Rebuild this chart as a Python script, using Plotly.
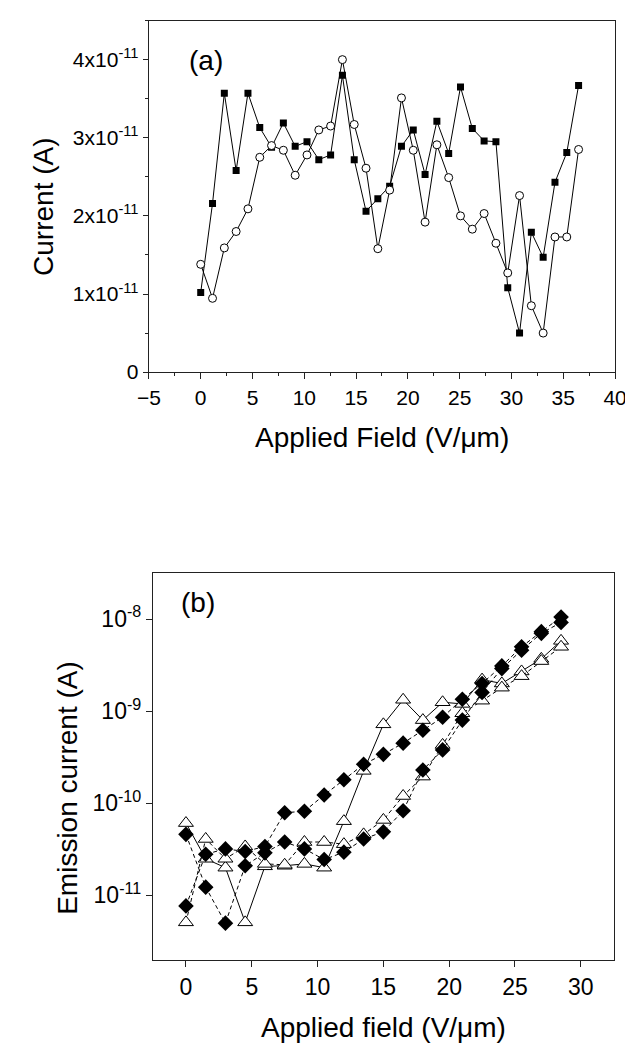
import plotly.graph_objects as go

# ---------- panel (a) data ----------
field_a = [0, 1.14, 2.28, 3.42, 4.56, 5.7, 6.84, 7.98, 9.12, 10.26, 11.4, 12.54, 13.68,
           14.82, 15.96, 17.1, 18.24, 19.38, 20.52, 21.66, 22.8, 23.94, 25.08, 26.22,
           27.36, 28.5, 29.64, 30.78, 31.92, 33.06, 34.2, 35.34, 36.48]
current_sq = [1.02, 2.16, 3.57, 2.58, 3.57, 3.13, 2.88, 3.19, 2.89, 2.95, 2.72, 2.78, 3.80,
              2.72, 2.06, 2.22, 2.38, 2.89, 3.10, 2.53, 3.21, 2.80, 3.65, 3.12, 2.96, 2.95,
              1.08, 0.50, 1.79, 1.47, 2.43, 2.81, 3.67]
current_ci = [1.38, 0.945, 1.59, 1.80, 2.09, 2.75, 2.90, 2.84, 2.52, 2.78, 3.10, 3.15, 4.00,
              3.17, 2.61, 1.58, 2.33, 3.51, 2.84, 1.92, 2.91, 2.49, 2.00, 1.83, 2.03, 1.65,
              1.27, 2.26, 0.85, 0.50, 1.73, 1.73, 2.85]
scale_a = 1e-11
yticks_a = [0, 1e-11, 2e-11, 3e-11, 4e-11]
yticktext_a = ["0", "1x10<sup>-11</sup>", "2x10<sup>-11</sup>", "3x10<sup>-11</sup>", "4x10<sup>-11</sup>"]
xticks_a = [-5, 0, 5, 10, 15, 20, 25, 30, 35, 40]

# ---------- panel (b) data ----------
field_b = [0, 1.5, 3, 4.5, 6, 7.5, 9, 10.5, 12, 13.5, 15, 16.5, 18, 19.5, 21, 22.5, 24,
           25.5, 27, 28.5]
dia_up = [7.7e-12, 2.8e-11, 3.2e-11, 3.0e-11, 3.4e-11, 7.9e-11, 8.2e-11, 1.23e-10, 1.8e-10,
          2.65e-10, 3.4e-10, 4.5e-10, 6.2e-10, 8.6e-10, 1.35e-9, 2.0e-9, 3.1e-9, 5.0e-9,
          7.3e-9, 1.05e-8]
dia_low = [4.6e-11, 1.23e-11, 5.0e-12, 2.1e-11, 2.9e-11, 3.8e-11, 3.2e-11, 2.45e-11, 2.95e-11,
           4.1e-11, 4.9e-11, 8.3e-11, 2.3e-10, 3.8e-10, 8.0e-10, 1.6e-9, 2.9e-9, 4.6e-9,
           7.0e-9, 9.2e-9]
tri_up = [6.1e-11, 2.5e-11, 2.0e-11, 5.1e-12, 2.07e-11, 2.1e-11, 2.2e-11, 2.0e-11, 6.4e-11,
          2.25e-10, 7.2e-10, 1.33e-9, 8.0e-10, 1.25e-9, 1.2e-9, 2.2e-9, 2.0e-9, 2.7e-9,
          3.7e-9, 5.8e-9]
tri_low = [5.1e-12, 4.1e-11, 2.5e-11, 3.4e-11, 2.2e-11, 2.15e-11, 3.8e-11, 3.8e-11, 3.6e-11,
           4.6e-11, 6.6e-11, 1.2e-10, 1.95e-10, 4.3e-10, 9.5e-10, 1.3e-9, 1.8e-9, 2.4e-9,
           3.5e-9, 5.0e-9]
yticks_b = [1e-11, 1e-10, 1e-9, 1e-8]
yticktext_b = ["10<sup>-11</sup>", "10<sup>-10</sup>", "10<sup>-9</sup>", "10<sup>-8</sup>"]
xticks_b = [0, 5, 10, 15, 20, 25, 30]

W, H = 633, 1048
FONT = "Arial, Liberation Sans, sans-serif"
AX = "#222222"

fig = go.Figure()

# panel (a)
fig.add_trace(go.Scatter(x=field_a, y=[v * scale_a for v in current_sq], mode="lines+markers",
                         line=dict(color="black", width=1),
                         marker=dict(symbol="square", size=7, color="black"),
                         xaxis="x", yaxis="y", showlegend=False))
fig.add_trace(go.Scatter(x=field_a, y=[v * scale_a for v in current_ci], mode="lines+markers",
                         line=dict(color="black", width=1),
                         marker=dict(symbol="circle", size=8, color="white",
                                     line=dict(color="black", width=1)),
                         xaxis="x", yaxis="y", showlegend=False))

# panel (b)
tri_marker = dict(symbol="triangle-up", size=13, color="white", line=dict(color="black", width=1))
dia_marker = dict(symbol="diamond", size=12, color="black")
fig.add_trace(go.Scatter(x=field_b, y=tri_up, mode="lines+markers",
                         line=dict(color="black", width=1), marker=tri_marker,
                         xaxis="x2", yaxis="y2", showlegend=False))
fig.add_trace(go.Scatter(x=field_b, y=tri_low, mode="lines+markers",
                         line=dict(color="black", width=1, dash="4px,3px"), marker=tri_marker,
                         xaxis="x2", yaxis="y2", showlegend=False))
fig.add_trace(go.Scatter(x=field_b, y=dia_up, mode="lines+markers",
                         line=dict(color="black", width=1, dash="4px,3px"), marker=dia_marker,
                         xaxis="x2", yaxis="y2", showlegend=False))
fig.add_trace(go.Scatter(x=field_b, y=dia_low, mode="lines+markers",
                         line=dict(color="black", width=1, dash="4px,3px"), marker=dia_marker,
                         xaxis="x2", yaxis="y2", showlegend=False))

def px_x(p):
    return p / W

def px_y(p):
    return 1 - p / H

common = dict(showgrid=False, zeroline=False, showline=True, linecolor=AX, linewidth=1.4,
              mirror=True, ticks="outside", tickcolor=AX, tickwidth=1.2)

fig.update_layout(
    width=W, height=H, autosize=False,
    margin=dict(l=0, r=0, t=0, b=0),
    paper_bgcolor="white", plot_bgcolor="white",
    font=dict(family=FONT, color="black"),
    xaxis=dict(domain=[px_x(134), px_x(618.5)], range=[-5, 40], tickvals=xticks_a,
               ticklen=6, tickfont=dict(size=21), anchor="y",
               minor=dict(ticks="outside", ticklen=3, dtick=2.5, tick0=0, tickcolor=AX,
                          showgrid=False),
               **common),
    yaxis=dict(domain=[px_y(368), px_y(12.7)], range=[0, 4.5e-11], tickvals=yticks_a,
               ticktext=yticktext_a, ticklen=5, tickfont=dict(size=21), anchor="x",
               minor=dict(ticks="outside", ticklen=3, dtick=0.5e-11, tick0=0, tickcolor=AX,
                          showgrid=False),
               **common),
    xaxis2=dict(domain=[px_x(138.3), px_x(617.1)], range=[-2.5, 32.5], tickvals=xticks_b,
                ticklen=6, tickfont=dict(size=23), anchor="y2", **common),
    yaxis2=dict(domain=[px_y(962), px_y(571)], type="log", range=[-11.70, -7.50],
                tickvals=yticks_b, ticktext=yticktext_b, ticklen=6, tickfont=dict(size=23),
                anchor="x2", **common),
    annotations=[
        dict(text="(a)", x=px_x(193), y=px_y(53), xref="paper", yref="paper",
             showarrow=False, font=dict(size=28), xanchor="center", yanchor="middle"),
        dict(text="(b)", x=px_x(185), y=px_y(601), xref="paper", yref="paper",
             showarrow=False, font=dict(size=28), xanchor="center", yanchor="middle"),
        dict(text="Applied Field (V/\u03bcm)", x=px_x(376), y=px_y(434), xref="paper",
             yref="paper", showarrow=False, font=dict(size=28), xanchor="center",
             yanchor="middle"),
        dict(text="Current (A)", x=px_x(25), y=px_y(201), xref="paper", yref="paper",
             showarrow=False, font=dict(size=28), textangle=-90, xanchor="center",
             yanchor="middle"),
        dict(text="Applied field (V/\u03bcm)", x=px_x(378), y=px_y(1030), xref="paper",
             yref="paper", showarrow=False, font=dict(size=28), xanchor="center",
             yanchor="middle"),
        dict(text="Emission current (A)", x=px_x(50), y=px_y(788), xref="paper",
             yref="paper", showarrow=False, font=dict(size=28), textangle=-90,
             xanchor="center", yanchor="middle"),
    ],
)

fig.write_html("out.html")
